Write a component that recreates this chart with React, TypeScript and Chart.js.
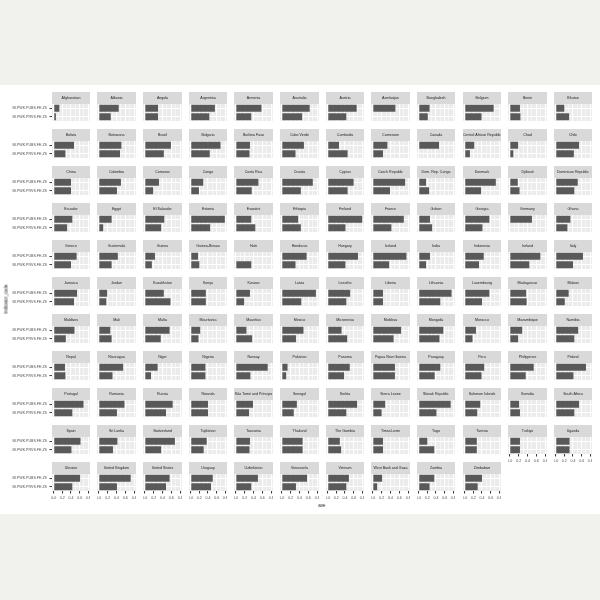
import React, { useEffect, useRef } from "react";
import { Chart, registerables } from "chart.js";

Chart.register(...registerables);

const countries = [
  "Afghanistan", "Albania", "Angola", "Argentina", "Armenia", "Australia", "Austria", "Azerbaijan", "Bangladesh", "Belgium", "Benin", "Bhutan",
  "Bolivia", "Botswana", "Brazil", "Bulgaria", "Burkina Faso", "Cabo Verde", "Cambodia", "Cameroon", "Canada", "Central African Republic", "Chad", "Chile",
  "China", "Colombia", "Comoros", "Congo", "Costa Rica", "Croatia", "Cyprus", "Czech Republic", "Dem. Rep. Congo", "Denmark", "Djibouti", "Dominican Republic",
  "Ecuador", "Egypt", "El Salvador", "Estonia", "Eswatini", "Ethiopia", "Finland", "France", "Gabon", "Georgia", "Germany", "Ghana",
  "Greece", "Guatemala", "Guinea", "Guinea-Bissau", "Haiti", "Honduras", "Hungary", "Iceland", "India", "Indonesia", "Ireland", "Italy",
  "Jamaica", "Jordan", "Kazakhstan", "Kenya", "Kosovo", "Latvia", "Lesotho", "Liberia", "Lithuania", "Luxembourg", "Madagascar", "Malawi",
  "Maldives", "Mali", "Malta", "Mauritania", "Mauritius", "Mexico", "Micronesia", "Moldova", "Mongolia", "Morocco", "Mozambique", "Namibia",
  "Nepal", "Nicaragua", "Niger", "Nigeria", "Norway", "Pakistan", "Panama", "Papua New Guinea", "Paraguay", "Peru", "Philippines", "Poland",
  "Portugal", "Romania", "Russia", "Rwanda", "São Tomé and Príncipe", "Senegal", "Serbia", "Sierra Leone", "Slovak Republic", "Solomon Islands", "Somalia", "South Africa",
  "Spain", "Sri Lanka", "Switzerland", "Tajikistan", "Tanzania", "Thailand", "The Gambia", "Timor-Leste", "Togo", "Tunisia", "Turkiye", "Uganda",
  "Ukraine", "United Kingdom", "United States", "Uruguay", "Uzbekistan", "Venezuela", "Vietnam", "West Bank and Gaza", "Zambia", "Zimbabwe",
];

// BI.PWK.PUBS.FE.ZS
const pubsValues: (number | null)[] = [
  0.13, 0.45, 0.30, 0.56, 0.58, 0.63, 0.67, 0.51, 0.25, 0.67, 0.23, 0.20,
  0.47, 0.51, 0.59, 0.69, 0.32, 0.50, 0.26, 0.33, 0.47, 0.22, 0.19, 0.54,
  0.40, 0.50, 0.32, 0.29, 0.51, 0.70, 0.60, 0.73, 0.17, 0.72, 0.18, 0.51,
  0.43, 0.29, 0.44, 0.79, 0.35, 0.37, 0.80, 0.70, 0.26, 0.57, 0.50, 0.34,
  0.53, 0.43, 0.23, 0.17, null, 0.56, 0.70, 0.76, 0.26, 0.44, 0.69, 0.63,
  0.54, 0.19, 0.43, 0.35, 0.32, 0.77, 0.52, 0.23, 0.76, 0.57, 0.37, 0.30,
  0.48, 0.26, 0.56, 0.22, 0.24, 0.49, 0.32, 0.64, 0.57, 0.26, 0.28, 0.52,
  0.26, 0.55, 0.29, 0.34, 0.72, 0.13, 0.51, 0.50, 0.50, 0.45, 0.54, 0.70,
  0.69, 0.58, 0.63, 0.40, 0.39, 0.34, 0.68, 0.28, 0.74, 0.36, 0.21, 0.54,
  0.62, 0.42, 0.68, 0.37, 0.32, 0.47, 0.28, 0.23, 0.20, 0.28, 0.23, 0.32,
  0.61, 0.72, 0.56, 0.51, 0.50, 0.57, 0.49, 0.21, 0.36, 0.40,
];

// BI.PWK.PRVS.FE.ZS
const prvsValues: (number | null)[] = [
  0.05, 0.27, 0.30, 0.43, 0.35, 0.46, 0.43, null, 0.21, 0.39, 0.24, 0.31,
  0.27, 0.48, 0.43, 0.44, 0.31, 0.31, 0.46, 0.23, null, 0.12, 0.08, 0.42,
  0.40, 0.41, 0.19, 0.19, 0.36, 0.43, 0.46, 0.39, 0.24, 0.38, 0.22, 0.43,
  0.31, 0.10, 0.37, 0.45, 0.44, 0.43, 0.41, 0.42, 0.31, 0.41, null, 0.27,
  0.40, 0.29, 0.16, 0.20, 0.35, 0.31, 0.41, 0.37, 0.17, 0.33, 0.44, 0.40,
  0.47, 0.17, 0.58, 0.35, 0.19, 0.44, 0.43, 0.23, 0.50, 0.40, 0.38, 0.21,
  0.28, 0.29, 0.36, 0.18, 0.37, 0.32, 0.45, 0.47, 0.48, 0.18, 0.19, 0.43,
  0.27, 0.31, 0.14, 0.34, 0.33, 0.10, 0.38, 0.50, 0.37, 0.39, 0.36, 0.41,
  0.43, 0.41, 0.48, 0.40, 0.30, 0.27, 0.43, 0.20, 0.41, 0.29, 0.23, 0.43,
  0.41, 0.32, 0.37, 0.30, 0.31, 0.47, 0.31, 0.23, 0.36, 0.28, 0.23, 0.32,
  0.43, 0.41, 0.48, 0.47, 0.35, 0.32, 0.43, 0.10, 0.25, 0.30,
];

const indicatorCodes = ["BI.PWK.PUBS.FE.ZS", "BI.PWK.PRVS.FE.ZS"];
const xTickValues = [0, 0.1, 0.2, 0.3, 0.4, 0.5, 0.6, 0.7, 0.8];
const X_MIN = -0.04;
const X_MAX = 0.84;

const NCOL = 12;
const FONT = "'Liberation Sans', Arial, Helvetica, sans-serif";

const isMajor = (v: number) => Math.round(v * 10) % 2 === 0;

const panelBg = {
  id: "panelBg",
  beforeDraw(chart: any) {
    const { ctx, chartArea: a } = chart;
    ctx.save();
    ctx.fillStyle = "#d9d9d9";
    ctx.fillRect(a.left, 0, a.right - a.left, a.top);
    ctx.fillStyle = "#ebebeb";
    ctx.fillRect(a.left, a.top, a.right - a.left, a.bottom - a.top);
    ctx.restore();
  },
};

const zeroPad = (s: any) => {
  s.paddingTop = 0;
  s.paddingBottom = 0;
  s.paddingLeft = 0;
  s.paddingRight = 0;
};

function Facet({ index }: { index: number }) {
  const ref = useRef<HTMLCanvasElement | null>(null);
  const col = index % NCOL;
  const row = Math.floor(index / NCOL);
  const firstCol = col === 0;
  const bottomRow = index + NCOL >= countries.length;

  const left = Math.round(51.7 + col * 45.66);
  const right = Math.round(51.7 + col * 45.66 + 38.5);
  const stripTop = Math.round(91.7 + row * 37);
  const top = Math.round(104.4 + row * 37);
  const bottom = Math.round(120.7 + row * 37);
  const stripH = top - stripTop;
  const axisW = firstCol ? left : 0;
  const axisH = bottomRow ? 12 : 0;
  const canvasLeft = left - axisW;
  const cw = right - canvasLeft;
  const ch = bottom - stripTop + axisH;

  useEffect(() => {
    if (!ref.current) return;
    const chart = new Chart(ref.current, {
      type: "bar",
      data: {
        labels: indicatorCodes,
        datasets: [
          {
            data: [pubsValues[index], prvsValues[index]] as any,
            backgroundColor: "#595959",
            borderWidth: 0,
            barPercentage: 0.82,
            categoryPercentage: 1,
          },
        ],
      },
      options: {
        indexAxis: "y",
        responsive: false,
        animation: false,
        events: [],
        layout: { padding: 0 },
        plugins: {
          legend: { display: false },
          tooltip: { enabled: false },
          title: {
            display: true,
            text: countries[index],
            fullSize: false,
            color: "#1a1a1a",
            font: { size: 3.6, family: FONT, weight: "normal", lineHeight: 1 },
            padding: { top: (stripH - 3.6) / 2, bottom: (stripH - 3.6) / 2 },
          },
        },
        scales: {
          x: {
            type: "linear",
            min: X_MIN,
            max: X_MAX,
            afterBuildTicks: (s: any) => {
              s.ticks = xTickValues.map((v) => ({ value: v }));
            },
            afterFit: (s: any) => {
              s.height = axisH;
              zeroPad(s);
            },
            grid: {
              color: "#ffffff",
              lineWidth: (c: any) => (c.tick && isMajor(c.tick.value) ? 1.1 : 0.55),
              drawTicks: bottomRow,
              tickLength: 2.5,
              tickWidth: 1,
              tickColor: (c: any) =>
                c.tick && isMajor(c.tick.value) ? "#333333" : "rgba(0,0,0,0)",
            },
            border: { display: false },
            ticks: {
              display: bottomRow,
              autoSkip: false,
              maxRotation: 0,
              minRotation: 0,
              padding: 2.5,
              color: "#4d4d4d",
              font: { size: 3.6, family: FONT },
              callback: (v: any) => (isMajor(Number(v)) ? Number(v).toFixed(1) : ""),
            },
          },
          y: {
            type: "category",
            offset: true,
            afterFit: (s: any) => {
              s.width = axisW;
              zeroPad(s);
            },
            grid: {
              offset: false,
              color: "#ffffff",
              lineWidth: 1.1,
              drawTicks: firstCol,
              tickLength: 2.5,
              tickWidth: 1,
              tickColor: "#333333",
            },
            border: { display: false },
            ticks: {
              display: firstCol,
              autoSkip: false,
              padding: 2.5,
              color: "#4d4d4d",
              font: { size: 3.6, family: FONT },
            },
          },
        },
      } as any,
      plugins: [panelBg],
    });
    return () => chart.destroy();
  }, []);

  return (
    <canvas
      ref={ref}
      width={cw}
      height={ch}
      style={{ position: "absolute", left: canvasLeft, top: stripTop, width: cw, height: ch }}
    />
  );
}

export default function App() {
  return (
    <div
      style={{
        position: "fixed",
        left: 0,
        top: 0,
        width: 600,
        height: 600,
        background: "#f1f1ee",
        overflow: "hidden",
      }}
    >
      <div style={{ position: "absolute", left: 0, top: 85, width: 600, height: 429, background: "#ffffff" }} />
      {countries.map((_, i) => (
        <Facet key={i} index={i} />
      ))}
      <div
        style={{
          position: "absolute",
          left: 322,
          top: 505,
          transform: "translate(-50%, -50%)",
          fontFamily: FONT,
          fontSize: "4.5px",
          color: "#1a1a1a",
          whiteSpace: "nowrap",
        }}
      >
        ave
      </div>
      <div
        style={{
          position: "absolute",
          left: 5.5,
          top: 299,
          transform: "translate(-50%, -50%) rotate(-90deg)",
          fontFamily: FONT,
          fontSize: "4.5px",
          color: "#1a1a1a",
          whiteSpace: "nowrap",
        }}
      >
        indicator_code
      </div>
    </div>
  );
}
